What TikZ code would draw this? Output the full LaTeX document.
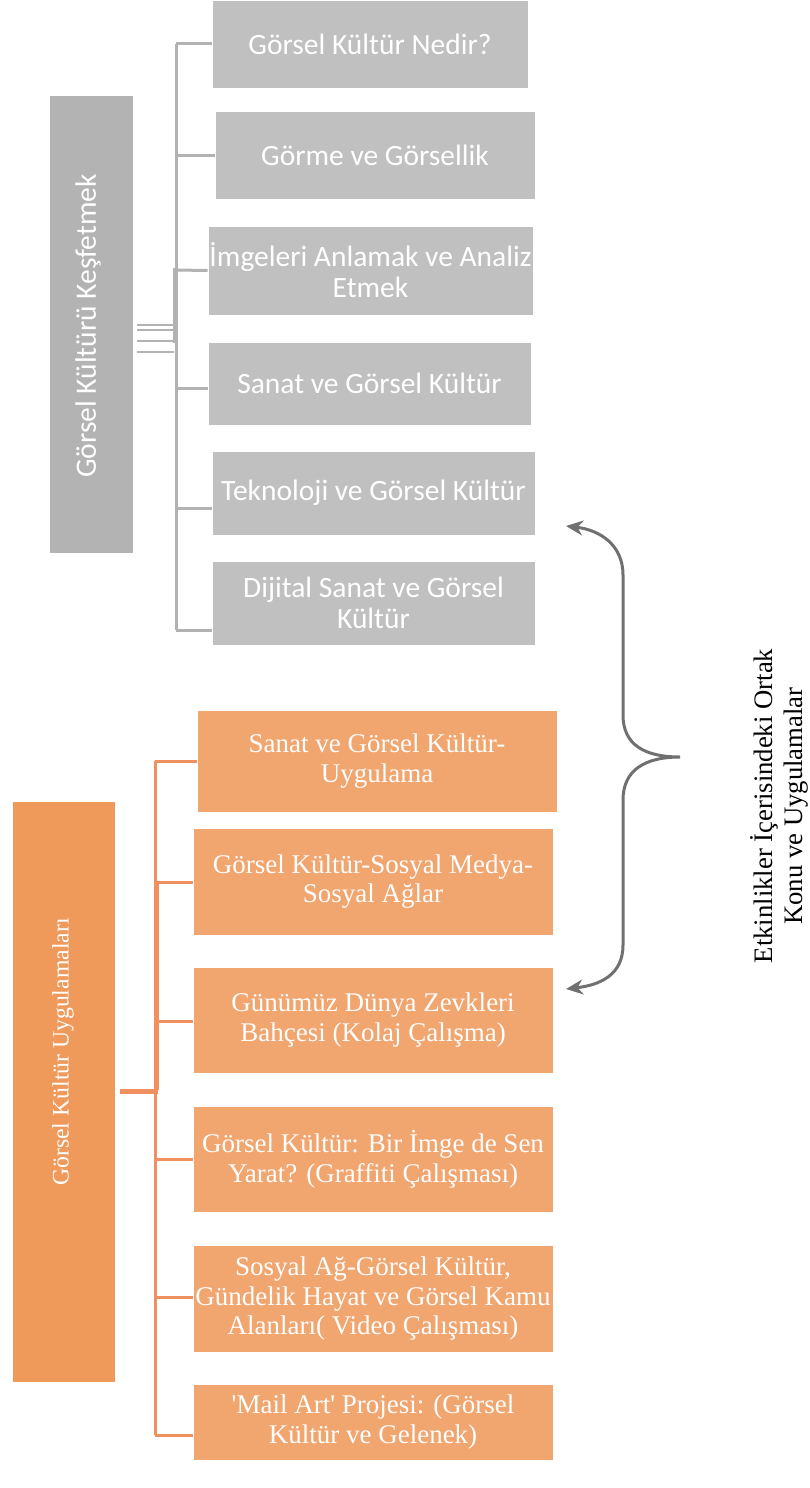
\documentclass[tikz,border=0pt]{standalone}
\usepackage{fontspec}
\setmainfont{Liberation Serif}
\newfontfamily\calfont{Carlito}
\usetikzlibrary{arrows.meta}

\definecolor{grayBox}{HTML}{C0C0C0}
\definecolor{grayRoot}{HTML}{B3B3B3}
\definecolor{grayLine}{HTML}{B2B2B2}
\definecolor{orBox}{HTML}{F1A56F}
\definecolor{orRoot}{HTML}{EF9A5B}
\definecolor{orLine}{HTML}{F0905F}
\definecolor{braceGray}{HTML}{707070}

\tikzset{
  gbox/.style={rectangle, fill=grayBox, draw=white, line width=0.8pt, text=white,
    font=\calfont\fontsize{29.5}{31}\selectfont, align=center, inner sep=0pt},
  obox/.style={rectangle, fill=orBox, draw=white, line width=0.8pt, text=white,
    font=\fontsize{27}{29.5}\selectfont, align=center, inner sep=0pt,
    minimum width=360pt},
  groot/.style={rectangle, fill=grayRoot, text=white, inner sep=0pt,
    minimum width=83pt, minimum height=457pt},
  oroot/.style={rectangle, fill=orRoot, text=white, inner sep=0pt,
    minimum width=102pt, minimum height=580pt},
  gline/.style={draw=grayLine, line width=3pt},
  oline/.style={draw=orLine, line width=3pt},
  bracepath/.style={draw=braceGray, line width=3pt, line cap=round,
    arrows={Stealth[length=17pt,width=15pt]-Stealth[length=17pt,width=15pt]}}
}

\begin{document}
\begin{tikzpicture}[x=1pt, y=-1pt]
\useasboundingbox (0,0) rectangle (810,1488);

% ---- upper group: Görsel Kültürü Keşfetmek ----
\node[groot] (gr) at (91.5,324.5) {};
\node[rotate=90, text=white, font=\calfont\fontsize{29.5}{32}\selectfont] (grl) at (88,326) {Görsel Kültürü Keşfetmek};

\node[gbox, minimum width=316pt, minimum height=88pt] (g1) at (370,44) {Görsel Kültür Nedir?};
\node[gbox, minimum width=320pt, minimum height=88pt] (g2) at (375,155) {Görme ve Görsellik};
\node[gbox, minimum width=325pt, minimum height=89pt] (g3) at (370.5,270.5) {İmgeleri Anlamak ve Analiz\\Etmek};
\node[gbox, minimum width=323pt, minimum height=83pt] (g4) at (369.5,383.5) {Sanat ve Görsel Kültür};
\node[gbox, minimum width=323pt, minimum height=84pt] (g5) at (373.5,493) {Teknoloji ve Görsel Kültür};
\node[gbox, minimum width=323pt, minimum height=84pt] (g6) at (373.5,603) {Dijital Sanat ve Görsel\\Kültür};

% bus and branches
\coordinate (gtop) at (176,44);
\coordinate (gbot) at (176,630);
\path[gline] (gtop) -- (gbot);
\path[gline] (gtop) -- (g1.west);
\path[gline] (176,155) -- (g2.west);
\path[gline] (176,270) -- (g3.west);
\path[gline] (176,388) -- (g4.west |- 176,388);
\path[gline] (176,508) -- (g5.west |- 176,508);
\path[gline] (gbot) -- (g6.west |- gbot);
\path[draw=grayLine, line width=5pt] (175,268) -- (175,343);
\foreach \yy in {325,330,341,352}
  \path[draw=grayLine, line width=2pt] (137,\yy) -- (174,\yy);

% ---- lower group: Görsel Kültür Uygulamaları ----
\node[oroot] (or) at (64,1092) {};
\node[rotate=90, text=white, font=\fontsize{23.7}{26}\selectfont] (orl) at (63,1052) {Görsel Kültür Uygulamaları};

\node[obox, minimum height=102pt] (o1) at (377,761) {Sanat ve Görsel Kültür-\\Uygulama};
\node[obox, minimum height=107pt] (o2) at (373,881.5) {Görsel Kültür-Sosyal Medya-\\Sosyal Ağlar};
\node[obox, minimum height=106pt] (o3) at (373,1020) {Günümüz Dünya Zevkleri\\Bahçesi (Kolaj Çalışma)};
\node[obox, minimum height=106pt] (o4) at (373,1159) {Görsel Kültür: Bir İmge de Sen\\Yarat? (Graffiti Çalışması)};
\node[obox, minimum height=107pt] (o5) at (373,1298.5) {Sosyal Ağ-Görsel Kültür,\\Gündelik Hayat ve Görsel Kamu\\Alanları( Video Çalışması)};
\node[obox, minimum height=76pt] (o6) at (373,1422) {\textquotesingle Mail Art\textquotesingle{} Projesi: (Görsel\\Kültür ve Gelenek)};

\coordinate (otop) at (155,761);
\coordinate (obot) at (155,1435);
\path[oline] (otop) -- (obot);
\path[oline] (otop) -- (o1.west);
\path[oline] (155,882) -- (o2.west |- 155,882);
\path[oline] (155,1021) -- (o3.west |- 155,1021);
\path[oline] (155,1159) -- (o4.west);
\path[oline] (155,1297) -- (o5.west |- 155,1297);
\path[oline] (obot) -- (o6.west |- obot);
\path[draw=orLine, line width=5pt] (156,882) -- (156,1090);
\path[draw=orLine, line width=5pt] (120,1091) -- (158,1091);

% ---- brace linking the two groups ----
\coordinate (bt) at (566,526);
\coordinate (bb) at (566,989);
\coordinate (bm) at (680,757);
\path[bracepath] (bt) .. controls (600,530) and (623,545) .. (623,575)
  -- (623,715) .. controls (623,745) and (645,757) .. (bm)
  .. controls (645,757) and (623,770) .. (623,800)
  -- (623,945) .. controls (623,975) and (600,985) .. (bb);

\node[rotate=90, align=center, font=\fontsize{26.7}{30}\selectfont] (lbl) at (779,806)
  {Etkinlikler İçerisindeki Ortak\\Konu ve Uygulamalar};
\end{tikzpicture}
\end{document}
